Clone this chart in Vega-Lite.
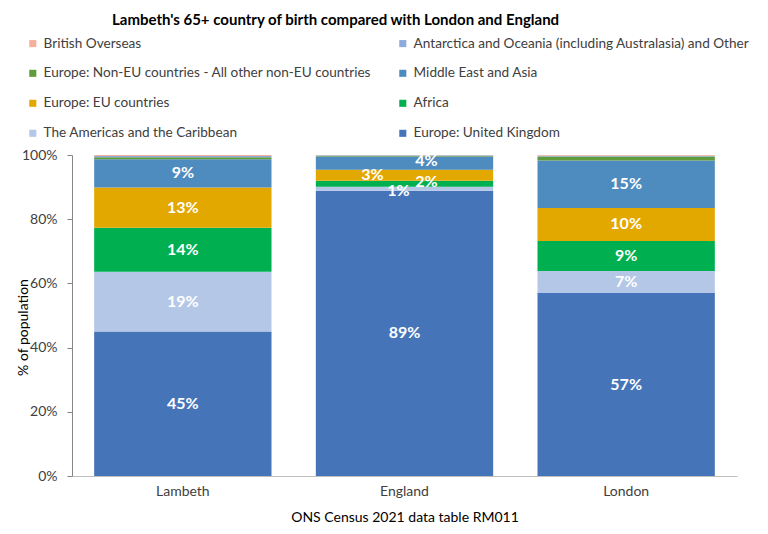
{
  "$schema": "https://vega.github.io/schema/vega-lite/v6.json",
  "width": 665,
  "height": 321,
  "autosize": "none",
  "padding": {"left": 72, "top": 155, "right": 31, "bottom": 58},
  "background": "white",
  "title": {
    "text": "Lambeth's 65+ country of birth compared with London and England",
    "anchor": "start",
    "dx": 96,
    "font": "Lato",
    "fontSize": 15,
    "fontWeight": "bold",
    "color": "#000000",
    "offset": 9
  },
  "config": {
    "view": {"stroke": null},
    "font": "Lato"
  },
  "data": {
    "values": [
      {"area": "Lambeth", "category": "Europe: United Kingdom", "value": 0.450},
      {"area": "Lambeth", "category": "The Americas and the Caribbean", "value": 0.186},
      {"area": "Lambeth", "category": "Africa", "value": 0.137},
      {"area": "Lambeth", "category": "Europe: EU countries", "value": 0.126},
      {"area": "Lambeth", "category": "Middle East and Asia", "value": 0.088},
      {"area": "Lambeth", "category": "Europe: Non-EU countries - All other non-EU countries", "value": 0.006},
      {"area": "Lambeth", "category": "Antarctica and Oceania (including Australasia) and Other", "value": 0.004},
      {"area": "Lambeth", "category": "British Overseas", "value": 0.003},
      {"area": "England", "category": "Europe: United Kingdom", "value": 0.889},
      {"area": "England", "category": "The Americas and the Caribbean", "value": 0.012},
      {"area": "England", "category": "Africa", "value": 0.019},
      {"area": "England", "category": "Europe: EU countries", "value": 0.034},
      {"area": "England", "category": "Middle East and Asia", "value": 0.041},
      {"area": "England", "category": "Europe: Non-EU countries - All other non-EU countries", "value": 0.003},
      {"area": "England", "category": "Antarctica and Oceania (including Australasia) and Other", "value": 0.0015},
      {"area": "England", "category": "British Overseas", "value": 0.0005},
      {"area": "London", "category": "Europe: United Kingdom", "value": 0.570},
      {"area": "London", "category": "The Americas and the Caribbean", "value": 0.069},
      {"area": "London", "category": "Africa", "value": 0.093},
      {"area": "London", "category": "Europe: EU countries", "value": 0.103},
      {"area": "London", "category": "Middle East and Asia", "value": 0.148},
      {"area": "London", "category": "Europe: Non-EU countries - All other non-EU countries", "value": 0.012},
      {"area": "London", "category": "Antarctica and Oceania (including Australasia) and Other", "value": 0.003},
      {"area": "London", "category": "British Overseas", "value": 0.002}
    ]
  },
  "transform": [
    {"calculate": "indexof(['Europe: United Kingdom','The Americas and the Caribbean','Africa','Europe: EU countries','Middle East and Asia','Europe: Non-EU countries - All other non-EU countries','Antarctica and Oceania (including Australasia) and Other','British Overseas'], datum.category)", "as": "k"},
    {"stack": "value", "groupby": ["area"], "sort": [{"field": "k", "order": "ascending"}], "as": ["y0", "y1"]},
    {"calculate": "(datum.y0 + datum.y1) / 2", "as": "ymid"}
  ],
  "encoding": {
    "x": {
      "field": "area",
      "type": "nominal",
      "sort": ["Lambeth", "England", "London"],
      "scale": {"paddingInner": 0.2, "paddingOuter": 0.1},
      "axis": {
        "labelAngle": 0,
        "ticks": false,
        "domainColor": "#bfbfbf",
        "labelFontSize": 14,
        "labelColor": "#404040",
        "labelPadding": 8,
        "title": "ONS Census 2021 data table RM011",
        "titleFontSize": 14,
        "titleFontWeight": "normal",
        "titleColor": "#000000",
        "titlePadding": 12
      }
    }
  },
  "layer": [
    {
      "mark": {"type": "bar"},
      "encoding": {
        "y": {
          "field": "y0",
          "type": "quantitative",
          "scale": {"domain": [0, 1], "nice": false},
          "axis": {
            "values": [0, 0.2, 0.4, 0.6, 0.8, 1],
            "format": ".0%",
            "grid": false,
            "domainColor": "#868686",
            "tickColor": "#868686",
            "tickSize": 5,
            "labelFontSize": 14,
            "labelColor": "#404040",
            "labelPadding": 10,
            "title": "% of population",
            "titleFontSize": 14,
            "titleFontWeight": "normal",
            "titleColor": "#000000",
            "titleX": -49,
            "titleY": 172,
            "titleBaseline": "middle"
          }
        },
        "y2": {"field": "y1"},
        "color": {
          "field": "category",
          "type": "nominal",
          "scale": {
            "domain": [
              "British Overseas",
              "Antarctica and Oceania (including Australasia) and Other",
              "Europe: Non-EU countries - All other non-EU countries",
              "Middle East and Asia",
              "Europe: EU countries",
              "Africa",
              "The Americas and the Caribbean",
              "Europe: United Kingdom"
            ],
            "range": ["#F4B09A", "#8EA9DB", "#5E9C3D", "#4E8BBF", "#E3A800", "#00B050", "#B4C7E7", "#4674B8"]
          },
          "legend": {
            "title": null,
            "orient": "none",
            "legendX": -46,
            "legendY": -118.5,
            "direction": "horizontal",
            "columns": 2,
            "columnPadding": 24,
            "rowPadding": 15,
            "symbolType": "square",
            "symbolSize": 50,
            "symbolStrokeWidth": 0,
            "labelFontSize": 13.6,
            "labelColor": "#404040",
            "labelLimit": 500,
            "labelOffset": 4
          }
        }
      }
    },
    {
      "transform": [
        {"filter": "datum.k <= 4 && (datum.area != 'England' || datum.k == 0)"}
      ],
      "mark": {"type": "text", "color": "white", "fontWeight": "bold", "fontSize": 16, "baseline": "middle"},
      "encoding": {
        "y": {"field": "ymid", "type": "quantitative"},
        "text": {"field": "value", "type": "quantitative", "format": ".0%"}
      }
    },
    {
      "transform": [
        {"filter": "datum.area == 'England' && datum.k == 1"}
      ],
      "mark": {"type": "text", "color": "white", "fontWeight": "bold", "fontSize": 16, "baseline": "middle", "dx": -6, "dy": 2},
      "encoding": {
        "y": {"field": "ymid", "type": "quantitative"},
        "text": {"field": "value", "type": "quantitative", "format": ".0%"}
      }
    },
    {
      "transform": [
        {"filter": "datum.area == 'England' && (datum.k == 2 || datum.k == 4)"}
      ],
      "mark": {"type": "text", "color": "white", "fontWeight": "bold", "fontSize": 16, "baseline": "middle", "dx": 22, "dy": -2},
      "encoding": {
        "y": {"field": "ymid", "type": "quantitative"},
        "text": {"field": "value", "type": "quantitative", "format": ".0%"}
      }
    },
    {
      "transform": [
        {"filter": "datum.area == 'England' && datum.k == 3"}
      ],
      "mark": {"type": "text", "color": "white", "fontWeight": "bold", "fontSize": 16, "baseline": "middle", "dx": -32},
      "encoding": {
        "y": {"field": "ymid", "type": "quantitative"},
        "text": {"field": "value", "type": "quantitative", "format": ".0%"}
      }
    }
  ]
}
